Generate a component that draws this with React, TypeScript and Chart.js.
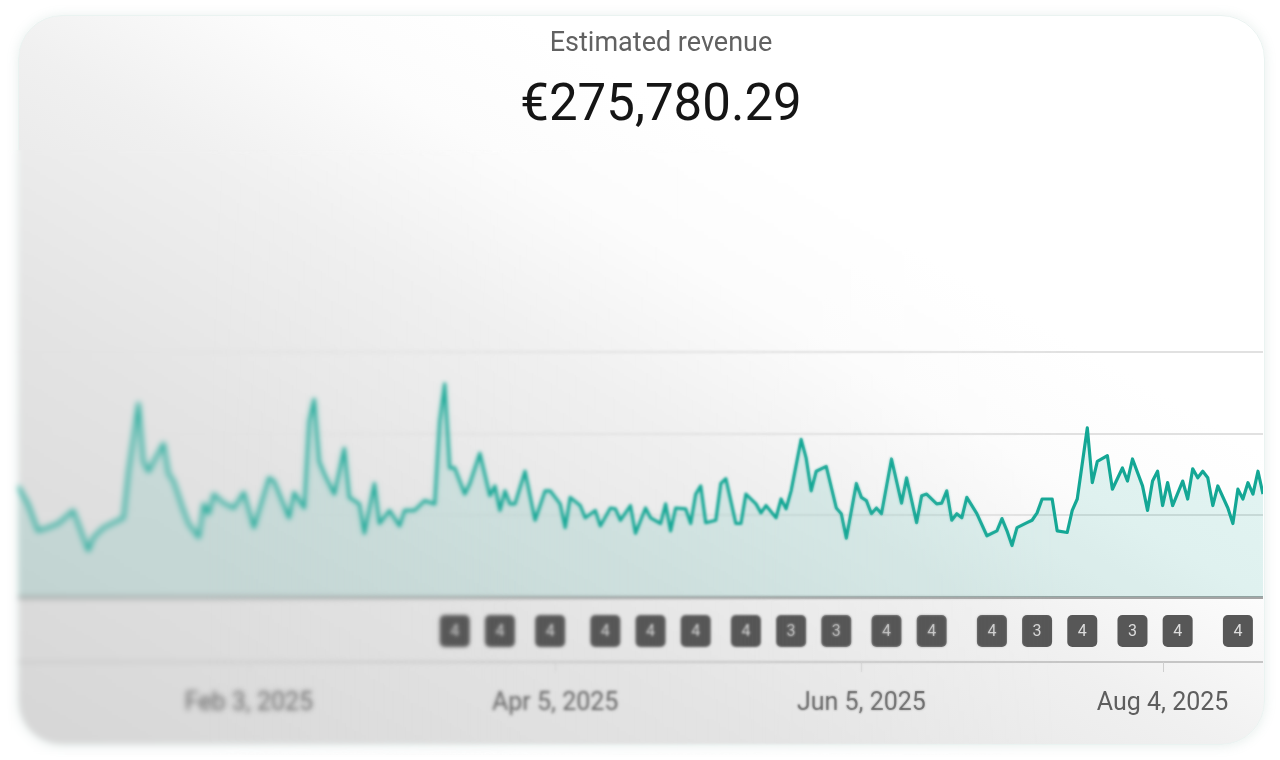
import React, { useEffect, useRef } from "react";
import { Chart, registerables } from "chart.js";

Chart.register(...registerables);

// ---- data (day 0 = Dec 19, 2024) ----
const titleText = "Estimated revenue";
const totalText = "€275,780.29";

const days = [
  0, 2, 4, 6, 8, 11, 12, 14, 15, 17, 19, 21, 22, 24, 25, 26, 27, 29, 30, 31,
  33, 34, 36, 37, 38, 39, 41, 43, 45, 47, 48, 50, 51, 54, 55, 57, 58, 59, 60, 61,
  63, 65, 66, 68, 69, 71, 72, 74, 76, 77, 79, 81, 83, 84, 85, 86, 87, 89, 90, 92,
  94, 95, 96, 97, 98, 99, 101, 103, 105, 106, 108, 109, 110, 112, 113, 115, 116, 118, 119, 120,
  122, 123, 125, 126, 128, 129, 130, 131, 133, 134, 135, 136, 137, 139, 140, 141, 143, 144, 145, 147,
  148, 149, 151, 152, 153, 154, 156, 157, 158, 159, 161, 163, 164, 165, 167, 168, 169, 170, 171, 172,
  174, 176, 177, 179, 180, 181, 183, 184, 185, 186, 187, 188, 189, 191, 193, 195, 196, 197, 198, 199,
  201, 202, 203, 204, 206, 207, 209, 210, 211, 213, 214, 215, 217, 218, 220, 221, 222, 224, 225, 226,
  227, 228, 229, 230, 232, 233, 234, 235, 236, 237, 238, 239, 241, 242, 243, 244, 245, 246, 247, 248,
];

const revenue = [
  1360, 1140, 810, 850, 900, 1060, 900, 570, 730, 850, 910, 970, 1540, 2370, 1660, 1540, 1660, 1880, 1510, 1420,
  1060, 900, 730, 1140, 1020, 1260, 1150, 1090, 1280, 850, 1060, 1460, 1420, 970, 1280, 1090, 2150, 2420, 1660, 1510,
  1260, 1820, 1220, 1140, 780, 1390, 900, 1060, 870, 1060, 1060, 1180, 1140, 2150, 2610, 1580, 1580, 1260, 1390, 1760,
  1240, 1360, 1060, 1300, 1140, 1140, 1540, 940, 1300, 1300, 1140, 850, 1220, 1120, 970, 1060, 870, 1090, 1080, 940,
  1120, 780, 1090, 970, 900, 1140, 810, 1090, 1080, 900, 1260, 1360, 910, 940, 1390, 1450, 900, 900, 1260, 1140,
  1030, 1120, 970, 1200, 1080, 1300, 1930, 1700, 1300, 1540, 1600, 1090, 1020, 720, 1390, 1220, 1180, 1020, 1090, 1020,
  1690, 1150, 1460, 910, 1240, 1260, 1140, 1150, 1300, 940, 1020, 970, 1220, 1020, 750, 810, 960, 810, 630, 850,
  910, 940, 1030, 1200, 1200, 810, 790, 1060, 1200, 2070, 1400, 1660, 1730, 1320, 1580, 1420, 1690, 1360, 1060, 1420,
  1540, 1120, 1400, 1120, 1420, 1200, 1570, 1460, 1540, 1460, 1120, 1360, 1090, 900, 1320, 1200, 1400, 1260, 1540, 1260,
];

const yTicks = [0, 1000, 2000, 3000];
const tickDays = [46, 107, 168, 228];
const tickLabels = ["Feb 3, 2025", "Apr 5, 2025", "Jun 5, 2025", "Aug 4, 2025"];

const markerDays = [87, 96, 106, 117, 126, 135, 145, 154, 163, 173, 182, 194, 203, 212, 222, 231, 243];
const markerCounts = [4, 4, 4, 4, 4, 4, 4, 3, 3, 4, 4, 4, 3, 4, 3, 4, 4];

const FONT = "Roboto, 'Noto Sans', Arial, sans-serif";

const markerPlugin = {
  id: "markerRow",
  afterDraw(chart: any) {
    const { ctx, chartArea, scales } = chart;
    const x = scales.x;
    const lineY = chartArea.bottom + 65;
    ctx.save();
    ctx.strokeStyle = "#c6c6c6";
    ctx.lineWidth = 2;
    ctx.beginPath();
    ctx.moveTo(chartArea.left, lineY);
    ctx.lineTo(chartArea.right, lineY);
    ctx.stroke();

    ctx.strokeStyle = "#cfcfcf";
    ctx.lineWidth = 1;
    tickDays.forEach((d) => {
      const px = Math.round(x.getPixelForValue(d)) + 0.5;
      ctx.beginPath();
      ctx.moveTo(px, lineY);
      ctx.lineTo(px, lineY + 10);
      ctx.stroke();
    });

    const cy = chartArea.bottom + 34;
    const w = 30;
    const h = 32;
    markerDays.forEach((d, i) => {
      const cx = x.getPixelForValue(d);
      ctx.fillStyle = "#575757";
      ctx.beginPath();
      ctx.roundRect(cx - w / 2, cy - h / 2, w, h, 5);
      ctx.fill();
      ctx.fillStyle = "#dcdcdc";
      ctx.font = `16px ${FONT}`;
      ctx.textAlign = "center";
      ctx.textBaseline = "middle";
      ctx.fillText(String(markerCounts[i]), cx, cy + 1);
    });
    ctx.restore();
  },
};

export default function App() {
  const canvasRef = useRef<HTMLCanvasElement | null>(null);

  useEffect(() => {
    if (!canvasRef.current) return;
    const chart = new Chart(canvasRef.current, {
      type: "line",
      data: {
        datasets: [
          {
            label: titleText,
            data: days.map((d, i) => ({ x: d, y: revenue[i] })),
            borderColor: "#14a795",
            borderWidth: 3.2,
            backgroundColor: "rgba(18,165,148,0.12)",
            fill: "origin",
            tension: 0,
            pointRadius: 0,
            borderJoinStyle: "round",
          },
        ],
      },
      options: {
        animation: false,
        responsive: false,
        maintainAspectRatio: false,
        events: [],
        layout: { padding: { left: 18, right: 17, top: 352, bottom: 0 } },
        plugins: {
          legend: { display: false },
          tooltip: { enabled: false },
          title: { display: false },
        },
        scales: {
          x: {
            type: "linear",
            min: 0,
            max: 248,
            grid: { display: false },
            border: { display: false },
            afterBuildTicks: (s: any) => {
              s.ticks = tickDays.map((v) => ({ value: v }));
            },
            afterFit: (s: any) => {
              s.height = 163;
              s.paddingLeft = 0;
              s.paddingRight = 0;
            },
            ticks: {
              autoSkip: false,
              maxRotation: 0,
              padding: 84,
              color: "#5e5e5e",
              font: { family: FONT, size: 25 },
              callback: (v: any) => {
                const i = tickDays.indexOf(Number(v));
                return i >= 0 ? tickLabels[i] : "";
              },
            },
          },
          y: {
            min: 0,
            max: 3000,
            afterBuildTicks: (s: any) => {
              s.ticks = yTicks.map((v) => ({ value: v }));
            },
            afterFit: (s: any) => {
              s.width = 0;
              s.paddingTop = 0;
              s.paddingBottom = 0;
            },
            ticks: { display: false },
            border: { display: false },
            grid: {
              drawTicks: false,
              color: (c: any) => (c.tick && c.tick.value === 0 ? "#a4a4a4" : "#e1e1e1"),
              lineWidth: (c: any) => (c.tick && c.tick.value === 0 ? 3 : 2),
            },
          },
        },
      },
      plugins: [markerPlugin],
    });
    return () => chart.destroy();
  }, []);

  const blurLayer = (blur: number, solid: number, fade: number): React.CSSProperties => ({
    position: "absolute",
    left: 8,
    top: 150,
    width: 1080,
    height: 605,
    backdropFilter: `blur(${blur}px)`,
    WebkitBackdropFilter: `blur(${blur}px)`,
    maskImage: `linear-gradient(to right, black 0%, black ${solid}%, transparent ${fade}%)`,
    WebkitMaskImage: `linear-gradient(to right, black 0%, black ${solid}%, transparent ${fade}%)`,
    pointerEvents: "none",
  });

  return (
    <div
      style={{
        position: "fixed",
        left: 0,
        top: 0,
        width: 1280,
        height: 760,
        background: "#ffffff",
        overflow: "hidden",
        fontFamily: FONT,
      }}
    >
      <div
        style={{
          position: "absolute",
          left: 18,
          top: 15,
          width: 1247,
          height: 730,
          borderRadius: 44,
          background:
            "linear-gradient(to top right, #d6d6d6 0%, #e4e4e4 30%, #f0f0f0 48%, #fcfcfc 60%, #ffffff 70%)",
          boxShadow: "0 1px 12px rgba(120,160,150,0.18)",
          border: "1px solid #eaf3f1",
          boxSizing: "border-box",
        }}
      />
      <canvas
        ref={canvasRef}
        width={1280}
        height={760}
        style={{ position: "absolute", left: 0, top: 0, width: 1280, height: 760 }}
      />
      <div style={blurLayer(1, 68, 98)} />
      <div style={blurLayer(1.8, 42, 72)} />
      <div style={blurLayer(2.5, 18, 48)} />
      <div
        style={{
          position: "absolute",
          left: 411,
          width: 500,
          top: 29,
          fontSize: 27,
          lineHeight: "27px",
          color: "#616161",
          textAlign: "center",
        }}
      >
        {titleText}
      </div>
      <div
        style={{
          position: "absolute",
          left: 361,
          width: 600,
          top: 77,
          fontSize: 51,
          lineHeight: "51px",
          color: "#151515",
          textAlign: "center",
        }}
      >
        {totalText}
      </div>
    </div>
  );
}
